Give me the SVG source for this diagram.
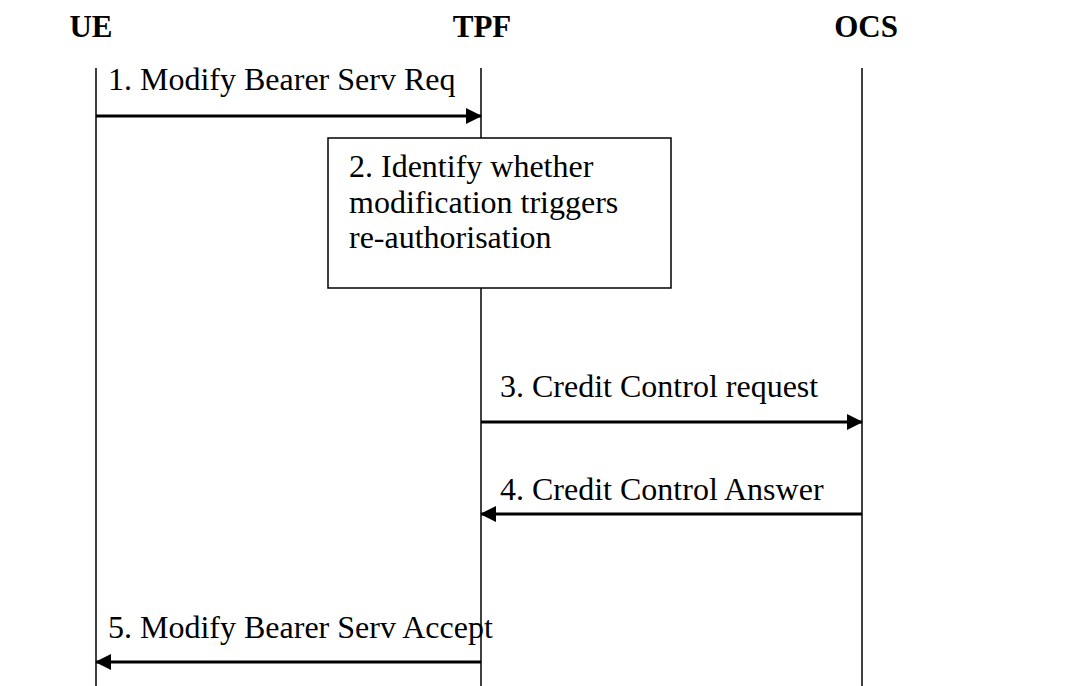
<svg xmlns="http://www.w3.org/2000/svg" width="1071" height="686" viewBox="0 0 1071 686">
  <style>
    .hdr { font-family: "Liberation Serif", "Times New Roman", serif; font-weight: bold; font-size: 31px; fill: #000; text-anchor: middle; }
    .lbl { font-family: "Liberation Serif", "Times New Roman", serif; font-size: 32px; fill: #000; }
    .life { stroke: #000; stroke-width: 1.5; fill: none; }
    .msg { stroke: #000; stroke-width: 3; fill: none; }
    .box { stroke: #000; stroke-width: 1.5; fill: #fff; }
  </style>
  <defs>
    <marker id="arr" markerUnits="userSpaceOnUse" markerWidth="16" markerHeight="16" viewBox="0 0 16 16" refX="15" refY="8" orient="auto">
      <path d="M0,0 L16,8 L0,16 Z" fill="#000"/>
    </marker>
  </defs>
  <rect width="1071" height="686" fill="#fff"/>
  <g id="UE">
    <text class="hdr" x="91" y="37">UE</text>
    <line class="life" x1="96" y1="68" x2="96" y2="686"/>
  </g>
  <g id="TPF">
    <text class="hdr" x="482" y="37">TPF</text>
    <line class="life" x1="481" y1="68" x2="481" y2="686"/>
  </g>
  <g id="OCS">
    <text class="hdr" x="866" y="37">OCS</text>
    <line class="life" x1="862" y1="68" x2="862" y2="686"/>
  </g>
  <g id="step2">
    <rect class="box" x="328" y="138" width="343" height="150"/>
    <text class="lbl" x="349" y="177">2. Identify whether</text>
    <text class="lbl" x="349" y="213">modification triggers</text>
    <text class="lbl" x="349" y="248">re-authorisation</text>
  </g>
  <g id="connectors">
    <line class="msg" x1="96" y1="116" x2="481" y2="116" marker-end="url(#arr)"/>
    <text class="lbl" x="108" y="90">1. Modify Bearer Serv Req</text>
    <line class="msg" x1="481" y1="422" x2="862" y2="422" marker-end="url(#arr)"/>
    <text class="lbl" x="500" y="397">3. Credit Control request</text>
    <line class="msg" x1="862" y1="514" x2="481" y2="514" marker-end="url(#arr)"/>
    <text class="lbl" x="500" y="500">4. Credit Control Answer</text>
    <line class="msg" x1="481" y1="662" x2="96" y2="662" marker-end="url(#arr)"/>
    <text class="lbl" x="108" y="638">5. Modify Bearer Serv Accept</text>
  </g>
</svg>
